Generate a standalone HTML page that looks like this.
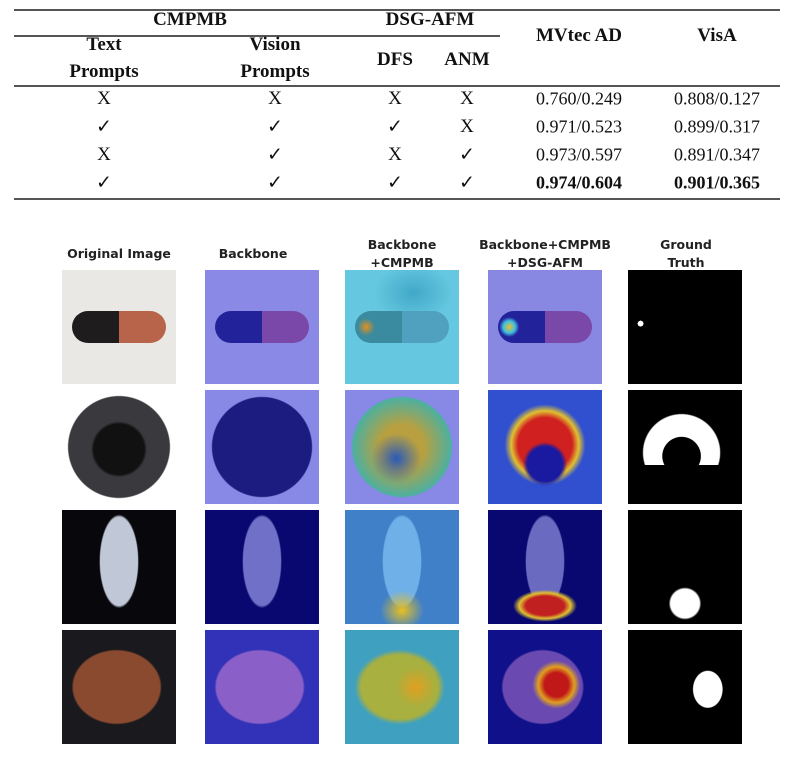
<!DOCTYPE html>
<html><head><meta charset="utf-8"><style>
body{margin:0;width:793px;height:759px;background:#fff;position:relative;overflow:hidden;font-family:"Liberation Serif",serif;color:#111}
.t{position:absolute;transform:translate(-50%,-50%);white-space:nowrap;font-size:18px}
.b{font-weight:bold;font-size:19px}
.rule{position:absolute;background:#555}
.lab{position:absolute;transform:translateX(-50%);font-family:"DejaVu Sans",sans-serif;font-weight:bold;font-size:12.5px;text-align:center;line-height:18px;color:#222;white-space:nowrap}
.cell{position:absolute;width:114px;height:114px;overflow:hidden}
.pill{position:absolute;left:10px;top:41px;width:94px;height:32px;border-radius:16px}
</style></head><body>
<div class="rule" style="left:14px;top:9px;width:766px;height:2px"></div>
<div class="rule" style="left:14px;top:35px;width:486px;height:1.5px"></div>
<div class="rule" style="left:14px;top:85px;width:766px;height:1.5px"></div>
<div class="rule" style="left:14px;top:198px;width:766px;height:2px"></div>
<div class="t b" style="left:190px;top:20px">CMPMB</div>
<div class="t b" style="left:430px;top:20px">DSG-AFM</div>
<div class="t b" style="left:579px;top:36px">MVtec AD</div>
<div class="t b" style="left:717px;top:36px">VisA</div>
<div class="t b" style="left:104px;top:45px">Text</div>
<div class="t b" style="left:104px;top:72px">Prompts</div>
<div class="t b" style="left:275px;top:45px">Vision</div>
<div class="t b" style="left:275px;top:72px">Prompts</div>
<div class="t b" style="left:395px;top:60px">DFS</div>
<div class="t b" style="left:467px;top:60px">ANM</div>
<div id="rows"></div>
<div class="lab" style="left:119px;top:245px">Original Image</div>
<div class="lab" style="left:253px;top:245px">Backbone</div>
<div class="lab" style="left:402px;top:236px">Backbone<br>+CMPMB</div>
<div class="lab" style="left:545px;top:236px">Backbone+CMPMB<br>+DSG-AFM</div>
<div class="lab" style="left:686px;top:236px">Ground<br>Truth</div>
<div id="grid"></div>
<script>
const marks=[["X","X","X","X"],["✓","✓","✓","X"],["X","✓","X","✓"],["✓","✓","✓","✓"]];
const mvtec=["0.760/0.249","0.971/0.523","0.973/0.597","0.974/0.604"];
const visa=["0.808/0.127","0.899/0.317","0.891/0.347","0.901/0.365"];
const rowY=[99,127,155,183], colX=[104,275,395,467];
let h='';
for(let r=0;r<4;r++){
 for(let c=0;c<4;c++) h+=`<div class="t" style="left:${colX[c]}px;top:${rowY[r]}px;font-size:19px">${marks[r][c]}</div>`;
 const bw=r==3?'font-weight:bold;':'';
 h+=`<div class="t" style="left:579px;top:${rowY[r]}px;${bw}">${mvtec[r]}</div>`;
 h+=`<div class="t" style="left:717px;top:${rowY[r]}px;${bw}">${visa[r]}</div>`;
}
document.getElementById('rows').innerHTML=h;
const gx=[62,205,345,488,628], gy=[270,390,510,630];
const pills=["linear-gradient(90deg,#1e1c1c 50%,#b8644a 50%)","linear-gradient(90deg,#22229a 50%,#7a48a8 50%)","radial-gradient(circle 9px at 12% 50%,#e09020,transparent),linear-gradient(90deg,#3a8aa0 50%,#50a0c0 50%)","radial-gradient(circle 10px at 12% 50%,#e8c030,#40c0e0 60%,transparent),linear-gradient(90deg,#22229a 50%,#7a48a8 50%)",""];
const bg=[
 ["#e9e8e4","#8a8ae6","radial-gradient(ellipse 40px 30px at 60% 20%,#40a8c8,transparent),#66c8e0","#8888e2",
  "radial-gradient(circle 4px at 11% 47%,#fff 70%,transparent 75%),#000"],
 ["radial-gradient(circle 28px at 50% 52%,#111 90%,transparent),radial-gradient(circle 56px at 50% 50%,#3a3a3e 90%,transparent 92%),#fff",
  "radial-gradient(circle 55px at 50% 50%,#1c1c80 90%,transparent 92%),#8888e6",
  "radial-gradient(circle 25px at 45% 60%,#2a5ab8,transparent),radial-gradient(circle 55px at 50% 50%,#b8a040 40%,#4cb0a0 90%,transparent 92%),#8888e6",
  "radial-gradient(circle 22px at 50% 65%,#1a1aa0 80%,transparent),radial-gradient(circle 45px at 50% 48%,#d02020 60%,#e0c030 75%,#3050d0 90%),#8080dd",
  "linear-gradient(#000,#000) 0 75px/100% 40px no-repeat,radial-gradient(circle 20px at 47% 58%,#000 95%,transparent 98%),radial-gradient(circle 40px at 47% 55%,#fff 95%,transparent 98%),#000"],
 ["radial-gradient(ellipse 22px 52px at 50% 45%,#c0c8d8 85%,transparent 90%),#08080c",
  "radial-gradient(ellipse 22px 52px at 50% 45%,#7070c8 85%,transparent 90%),#080870",
  "radial-gradient(ellipse 22px 20px at 50% 88%,#e8c020,transparent),radial-gradient(ellipse 22px 52px at 50% 45%,#70b0e8 85%,transparent 90%),#4080c8",
  "radial-gradient(ellipse 32px 16px at 50% 84%,#c02020 60%,#e0c030 80%,transparent),radial-gradient(ellipse 22px 52px at 50% 45%,#6a6ac0 85%,transparent 90%),#080870",
  "radial-gradient(ellipse 18px 18px at 50% 82%,#fff 80%,transparent 90%),#000"],
 ["radial-gradient(ellipse 48px 40px at 48% 50%,#8a4a30 90%,transparent 94%),#1a1a1e",
  "radial-gradient(ellipse 48px 40px at 48% 50%,#8a60c8 90%,transparent 94%),#3232b8",
  "radial-gradient(circle 20px at 62% 50%,#e0a020,transparent),radial-gradient(ellipse 48px 40px at 48% 50%,#a8b040 80%,transparent 94%),#40a0c0",
  "radial-gradient(circle 24px at 60% 48%,#c01818 50%,#e0a020 75%,transparent),radial-gradient(ellipse 44px 40px at 48% 50%,#6a4ab0 90%,transparent 94%),#10108a",
  "radial-gradient(ellipse 16px 20px at 70% 52%,#fff 90%,transparent 95%),#000"]
];
let g='';
for(let r=0;r<4;r++)for(let c=0;c<5;c++){
 const inner=(r==0&&pills[c])?`<div class="pill" style="background:${pills[c]}"></div>`:'';
 g+=`<div class="cell" style="left:${gx[c]}px;top:${gy[r]}px;background:${bg[r][c]}">${inner}</div>`;
}
document.getElementById('grid').innerHTML=g;
</script>
</body></html>
